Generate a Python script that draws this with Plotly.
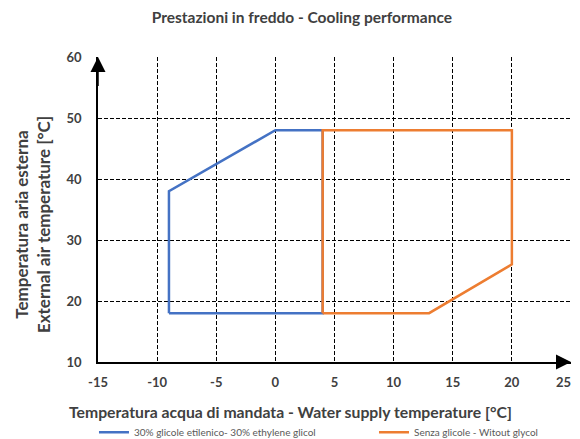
import plotly.graph_objects as go

# Data
glycol_x = [-9, -9, 0, 4, 4, -9]
glycol_y = [18, 38, 48, 48, 18, 18]
noglycol_x = [4, 4, 20, 20, 13, 4]
noglycol_y = [18, 48, 48, 26, 18, 18]
x_ticks = [-15, -10, -5, 0, 5, 10, 15, 20, 25]
y_ticks = [10, 20, 30, 40, 50, 60]

FONT = "Lato"
GRAY = "#404040"

fig = go.Figure()
fig.add_trace(go.Scatter(x=glycol_x, y=glycol_y, mode="lines",
                         name="30% glicole etilenico- 30% ethylene glicol",
                         line=dict(color="#4472C4", width=2.5), legend="legend"))
fig.add_trace(go.Scatter(x=noglycol_x, y=noglycol_y, mode="lines",
                         name="Senza glicole - Witout glycol",
                         line=dict(color="#ED7D31", width=2.5), legend="legend2"))

tickfont = dict(size=13, color=GRAY, family=FONT, weight="bold")
legfont = dict(size=10, color="#595959", family=FONT)
# last x tick label is drawn as an annotation anchored to its right edge so it stays inside the page
x_ticktext = [str(v) for v in x_ticks[:-1]] + [""]
fig.update_layout(
    width=580, height=431,
    margin=dict(l=90, r=17, t=49, b=77, autoexpand=False),
    paper_bgcolor="white", plot_bgcolor="white",
    font=dict(family=FONT, color=GRAY),
    title=dict(text="<b>Prestazioni in freddo - Cooling performance</b>",
               x=0.431, xanchor="center", xref="paper", y=0.977, yanchor="middle",
               font=dict(size=15.5, color=GRAY, family=FONT)),
    xaxis=dict(range=[-15, 25], tickvals=x_ticks, ticktext=x_ticktext,
               showgrid=True, gridcolor="black", griddash="4px,2px", gridwidth=1,
               zeroline=False, showline=True, linecolor="black", linewidth=1.5,
               ticks="", tickfont=tickfont, ticklabeloverflow="allow", automargin=False,
               ticklabelstandoff=8),
    yaxis=dict(range=[10, 60], tickvals=y_ticks, ticktext=[str(v) for v in y_ticks],
               showgrid=True, gridcolor="black", griddash="4px,2px", gridwidth=1,
               zeroline=False, showline=True, linecolor="black", linewidth=1.5,
               ticks="", tickfont=tickfont, automargin=False, ticklabelstandoff=12),
    legend=dict(orientation="h", x=-0.0085, xanchor="left", y=-0.23, yanchor="middle",
                font=legfont, itemwidth=30),
    legend2=dict(orientation="h", x=0.5835, xanchor="left", y=-0.23, yanchor="middle",
                 font=legfont, itemwidth=30),
    showlegend=True,
)

fig.add_annotation(text=str(x_ticks[-1]), xref="x", yref="y", x=x_ticks[-1], y=y_ticks[0],
                   xanchor="right", yanchor="middle", yshift=-20, xshift=2, showarrow=False,
                   font=tickfont)

# axis titles
fig.add_annotation(text="<b>Temperatura acqua di mandata - Water supply temperature [°C]</b>",
                   xref="paper", yref="paper", x=0.406, y=-0.161, xanchor="center",
                   yanchor="middle", showarrow=False,
                   font=dict(size=15.75, color=GRAY, family=FONT))
fig.add_annotation(text="<b>Temperatura aria esterna<br>External air temperature [°C]</b>",
                   xref="paper", yref="paper", x=-0.1395, y=0.449, xanchor="center",
                   yanchor="middle", showarrow=False, textangle=-90,
                   font=dict(size=17, color=GRAY, family=FONT))

# axis arrows
fig.add_annotation(x=-15, y=60, ax=-15, ay=55, xref="x", yref="y", axref="x", ayref="y",
                   showarrow=True, arrowhead=2, arrowsize=2, arrowwidth=1.5,
                   arrowcolor="black", text="")
fig.add_annotation(x=25, y=10, ax=24, ay=10, xref="x", yref="y", axref="x", ayref="y",
                   showarrow=True, arrowhead=2, arrowsize=2, arrowwidth=1.5,
                   arrowcolor="black", text="")

fig.write_html("out.html")
